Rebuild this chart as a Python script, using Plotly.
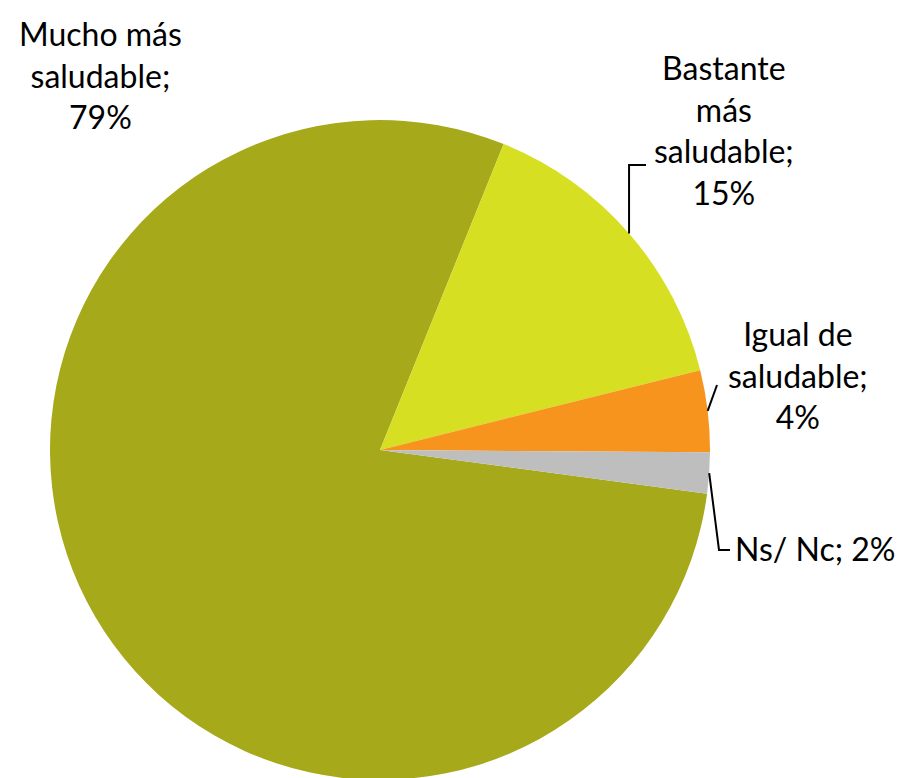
import math
import plotly.graph_objects as go

categories = ["Mucho más saludable", "Bastante más saludable", "Igual de saludable", "Ns/ Nc"]
values = [79, 15, 4, 2]
label_texts = ["Mucho más<br>saludable;<br>79%", "Bastante<br>más<br>saludable;<br>15%",
               "Igual de<br>saludable;<br>4%", "Ns/ Nc; 2%"]
colors = ["#A6A91A", "#D7DF23", "#F7941D", "#BEBEBE"]

W, H = 907, 778
OFF = 8  # page body margin offset
ROT = 97.6  # start angle (deg clockwise from 12 o'clock)
CX, CY, R = 380, 450, 330  # desired pie centre / radius on the page


def P(x, y):
    return (x - OFF) / W, 1 - (y - OFF) / H


x0, y0 = P(CX - R, CY + R)
x1, y1 = P(CX + R, CY - R)

fig = go.Figure(go.Pie(
    labels=categories, values=values, sort=False, direction="clockwise",
    rotation=ROT, marker=dict(colors=colors, line=dict(width=0)),
    textinfo="none", hoverinfo="skip", showlegend=False,
    domain=dict(x=[x0, x1], y=[y0, y1]),
))

total = sum(values)
mids = []
acc = ROT
for v in values:
    mids.append(acc + v / total * 360 / 2)
    acc += v / total * 360


def pt(ang, rad):
    a = math.radians(ang)
    return CX + rad * math.sin(a), CY - rad * math.cos(a)


font = dict(family="Lato, Open Sans, sans-serif", size=32, color="#000000")

label_pos = [(100, 75, "center"), (724, 130, "center"), (798, 375, "center"), (733, 548, "left")]
annotations = []
for (x, y, al), t in zip(label_pos, label_texts):
    px, py = P(x, y)
    annotations.append(dict(x=px, y=py, xref="paper", yref="paper", text=t, showarrow=False,
                            xanchor="center" if al == "center" else "left", yanchor="middle",
                            align="center", font=font))

shapes = []
line = dict(color="#000000", width=2)
sx, sy = pt(mids[1], R)
path1 = [(sx, sy), (sx, 165), (646, 165)]
ix, iy = pt(mids[2], R)
path2 = [(ix, iy), (717, 385)]
nx, ny = pt(mids[3], R)
path3 = [(nx, ny), (719, 550), (730, 550)]
for pth in (path1, path2, path3):
    d = "M " + " L ".join(f"{P(x, y)[0]},{P(x, y)[1]}" for x, y in pth)
    shapes.append(dict(type="path", path=d, xref="paper", yref="paper", line=line))

fig.update_layout(
    width=W, height=H, margin=dict(l=0, r=0, t=0, b=0),
    paper_bgcolor="white", plot_bgcolor="white",
    annotations=annotations, shapes=shapes,
)
fig.write_html("out.html")
